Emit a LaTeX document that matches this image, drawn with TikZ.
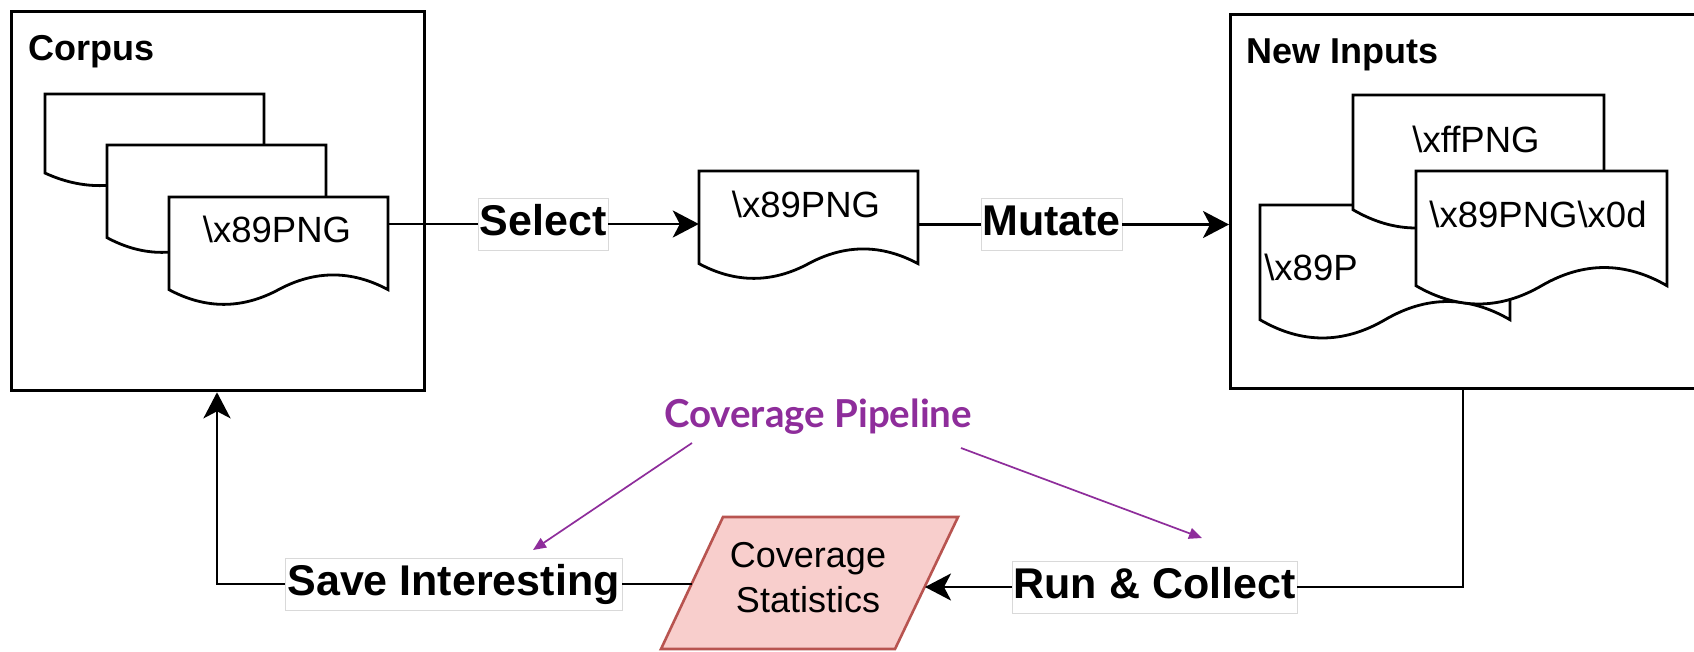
\documentclass[tikz,border=0pt]{standalone}
\usepackage{fontspec}
\setmainfont{Liberation Sans}[Ligatures=NoCommon]
\newfontfamily\pipefont{Lato}
\usetikzlibrary{arrows.meta,calc}
\definecolor{pipepurple}{RGB}{142,45,155}
\definecolor{statfill}{HTML}{F8CECC}
\definecolor{statline}{HTML}{B85450}

\tikzset{
  panel/.style={draw=black, line width=3.3pt, fill=white, inner sep=0pt},
  docline/.style={draw=black, fill=white, line width=2.8pt},
  docframe/.style={inner sep=0pt, draw=none},
  doctext/.style={font=\fontsize{36.5}{44}\selectfont, anchor=base, inner sep=0pt},
  paneltitle/.style={font=\fontsize{36}{43}\selectfont\bfseries, anchor=base west, inner sep=0pt},
  lbl/.style={fill=white, draw=black!15, line width=0.8pt, inner sep=0pt,
    minimum height=52pt, text height=31pt, text depth=9pt,
    font=\fontsize{43}{50}\selectfont\bfseries},
  flow/.style={line width=2.9pt, draw=black},
  flowarrow/.style={-{Stealth[length=26pt, width=27pt, inset=7pt]}},
  pipearrow/.style={draw=pipepurple, line width=1.7pt, -{Triangle[length=13pt, width=11pt]}},
}

% document shape: rectangle with a wavy bottom edge
% #1 name, #2 left, #3 top, #4 width, #5 height
\newcommand{\wavedoc}[5]{%
  \path[docline] (#2,#3) -- ({#2+#4},#3) -- ({#2+#4},{#3+0.85*#5})
    .. controls ({#2+5*#4/6},{#3+0.67*#5}) and ({#2+2*#4/3},{#3+0.67*#5}) .. ({#2+#4/2},{#3+0.85*#5})
    .. controls ({#2+#4/3},{#3+1.03*#5}) and ({#2+#4/6},{#3+1.03*#5}) .. (#2,{#3+0.85*#5}) -- cycle;
  \node[docframe, minimum width=#4pt, minimum height=#5pt] (#1) at ({#2+#4/2},{#3+#5/2}) {};
}

\begin{document}
\begin{tikzpicture}[x=1pt, y=-1pt]
\useasboundingbox (0,0) rectangle (1694,651);
\clip (0,0) rectangle (1694,651);
\fill[white] (0,0) rectangle (1694,651);

% corpus
\node[panel, anchor=north west, minimum width=413pt, minimum height=379pt] (corpus) at (10,10) {};
\node[paneltitle] (corpustitle) at (28,60) {Corpus};
\wavedoc{c1}{45}{94}{219}{93}
\wavedoc{c2}{107}{145}{219}{109}
\wavedoc{c3}{169}{197}{219}{109}
\node[doctext] (c3txt) at (277,242) {\textbackslash x89PNG};

% selected input
\wavedoc{pick}{699}{171}{219}{109}
\node[doctext] (picktxt) at (806,217) {\textbackslash x89PNG};

% new inputs
\node[panel, anchor=north west, minimum width=491pt, minimum height=374pt] (ni) at (1229,13) {};
\node[paneltitle] (nititle) at (1246,63) {New Inputs};
\wavedoc{nb}{1260}{205}{250}{135}
\node[doctext] (nbtxt) at (1311,280) {\textbackslash x89P};
\wavedoc{na}{1353}{95}{251}{135}
\node[doctext] (natxt) at (1476,152) {\textbackslash xffPNG};
\wavedoc{nc}{1416}{171}{251}{135}
\node[doctext] (nctxt) at (1538,227) {\textbackslash x89PNG\textbackslash x0d};

% coverage statistics
\path[draw=statline, fill=statfill, line width=2.6pt] (723,517) -- (958,517) -- (895,649) -- (661,649) -- cycle;
\node[font=\fontsize{36}{45}\selectfont, align=center, inner sep=0pt] (stat) at (808,577.5) {Coverage\\Statistics};
\coordinate (statL) at (692,584);
\coordinate (statR) at (925,587);

% edge labels
\node[lbl, minimum width=130pt] (sel) at (543,224) {Select};
\node[lbl, minimum width=141pt] (mut) at (1051.5,224.5) {Mutate};
\node[lbl, minimum width=337pt] (save) at (453.5,584) {Save Interesting};
\node[lbl, minimum width=285pt] (run) at (1154.5,587) {Run \& Collect};

% main loop
\draw[flow] (c3.east |- sel.west) -- (sel.west);
\draw[flow, flowarrow] (sel.east) -- (sel.east -| pick.west);
\draw[flow] (pick.east |- mut.west) -- (mut.west);
\draw[flow, flowarrow] (mut.east) -- (mut.east -| ni.west);
\draw[flow] ([xshift=234pt]ni.south west) |- (run.east);
\draw[flow, flowarrow] (run.west) -- (statR);
\draw[flow] (save.east) -- (statL);
\draw[flow, flowarrow] (save.west) -| ([xshift=207pt]corpus.south west);

% pipeline annotation
\node[font=\pipefont\bfseries\fontsize{38.5}{46}\selectfont, text=pipepurple, anchor=base, inner sep=0pt] (pipe) at (818,427) {Coverage Pipeline};
\coordinate (pipeL) at (692,443);
\coordinate (pipeR) at (961,448);
\coordinate (saveHint) at (533,550);
\coordinate (runHint) at (1202,538);
\draw[pipearrow] (pipeL) -- (saveHint);
\draw[pipearrow] (pipeR) -- (runHint);
\end{tikzpicture}
\end{document}
